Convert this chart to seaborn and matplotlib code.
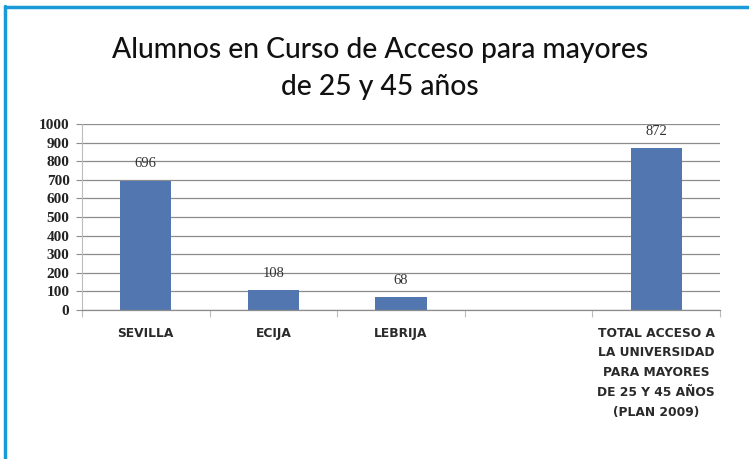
import numpy as np
import pandas as pd
import matplotlib
matplotlib.use("Agg")
import matplotlib.pyplot as plt
import seaborn as sns
from matplotlib.lines import Line2D

title = "Alumnos en Curso de Acceso para mayores\nde 25 y 45 años"
categories = ["SEVILLA", "ECIJA", "LEBRIJA", "",
              "TOTAL ACCESO A\nLA UNIVERSIDAD\nPARA MAYORES\nDE 25 Y 45 AÑOS\n(PLAN 2009)"]
values = [696, 108, 68, np.nan, 872]
yticks = [0, 100, 200, 300, 400, 500, 600, 700, 800, 900, 1000]

df = pd.DataFrame({"cat": categories, "val": values})

sns.set_theme(style="white")
plt.rcParams['font.family'] = ['DejaVu Sans']

fig = plt.figure(figsize=(7.49, 4.59), dpi=100)
ax = fig.add_axes([82/749, 1-310/459, (720-82)/749, (310-124)/459])

sns.barplot(data=df, x="cat", y="val", order=categories, color="#5277b0",
            width=0.4, saturation=1, ax=ax, errorbar=None, linewidth=0)

ax.set_ylim(0, 1000)
ax.set_xlim(-0.5, len(categories)-0.5)
ax.set_yticks(yticks)
ax.set_yticklabels([str(t) for t in yticks], fontfamily="Liberation Serif",
                   fontweight="bold", fontsize=11, color="#222222")
ax.yaxis.grid(True, color="#8c8c8c", linewidth=0.9)
ax.set_axisbelow(True)
ax.set_xlabel("")
ax.set_ylabel("")
ax.set_xticks(range(len(categories)))
ax.set_xticklabels(categories, fontfamily="DejaVu Sans",
                   fontsize=8.8, fontweight="bold", color="#2a2a2a", linespacing=1.68,
                   va="top")
ax.tick_params(axis="x", length=0, pad=12)
ax.tick_params(axis="y", length=4, left=True, color="#8c8c8c", width=0.8, pad=5)
ax.set_xticks(np.arange(-0.5, len(categories), 1.0), minor=True)
ax.tick_params(axis="x", which="minor", length=5, bottom=True, color="#bbbbbb", width=0.8)

for s in ["top", "right"]:
    ax.spines[s].set_visible(False)
ax.spines["left"].set_color("#bbbbbb")
ax.spines["bottom"].set_color("#8c8c8c")
ax.spines["left"].set_linewidth(0.8)
ax.spines["bottom"].set_linewidth(0.9)

for p in ax.patches:
    h = p.get_height()
    if h is None or np.isnan(h):
        continue
    ax.annotate(str(int(round(h))), (p.get_x() + p.get_width()/2, h),
                xytext=(0, 12), textcoords="offset points", ha="center", va="center",
                fontsize=10.5, fontfamily="Liberation Serif", color="#333333")

fig.text(380/749, 1-68.5/459, title, ha="center", va="center", fontsize=20.3,
         fontfamily="Lato", fontweight="medium", linespacing=1.48, color="#111111")

# blue frame on left and top
fig.add_artist(Line2D([5/749, 5/749], [0, 1-6/459], color="#1a9ad6", linewidth=2.5,
                      transform=fig.transFigure))
fig.add_artist(Line2D([5/749, 1], [1-7/459, 1-7/459], color="#1a9ad6", linewidth=2.5,
                      transform=fig.transFigure))

fig.savefig("out.png", dpi=100)
